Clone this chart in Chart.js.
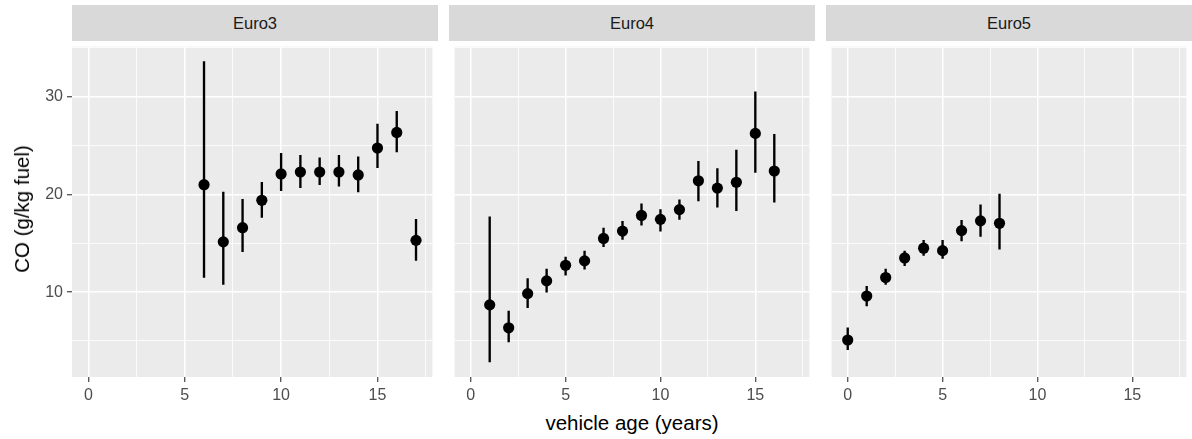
<!DOCTYPE html>
<html><head><meta charset="utf-8">
<script src="https://cdn.jsdelivr.net/npm/chart.js@4.4.1/dist/chart.umd.min.js"></script>
<style>
html,body{margin:0;padding:0;background:#fff}
body{width:1192px;height:439px;position:relative;overflow:hidden;font-family:"Liberation Sans",Arial,sans-serif}
.strip{position:absolute;top:5px;height:36px;width:366px;background:#D9D9D9;color:#1A1A1A;font-size:16.5px;display:flex;align-items:center;justify-content:center}
canvas{position:absolute;top:41px}
.xtitle{position:absolute;left:0;width:1264px;top:410px;text-align:center;font-size:20.5px;color:#000;line-height:26px}
.ytitle{position:absolute;left:22px;top:209px;transform:translate(-50%,-50%) rotate(-90deg);font-size:20.5px;color:#000;white-space:nowrap;line-height:26px}
</style></head>
<body>
<div class="strip" style="left:72px">Euro3</div>
<div class="strip" style="left:449px">Euro4</div>
<div class="strip" style="left:826px">Euro5</div>
<canvas id="c0" width="438" height="366" style="left:0px;width:438px;height:366px"></canvas>
<canvas id="c1" width="366" height="366" style="left:449px;width:366px;height:366px"></canvas>
<canvas id="c2" width="366" height="366" style="left:826px;width:366px;height:366px"></canvas>
<div class="xtitle">vehicle age (years)</div>
<div class="ytitle">CO (g/kg fuel)</div>
<script>
// ---- data ----
const panels = ['Euro3', 'Euro4', 'Euro5'];

const euro3Age   = [6, 7, 8, 9, 10, 11, 12, 13, 14, 15, 16, 17];
const euro3Mean  = [21.0, 15.15, 16.6, 19.4, 22.1, 22.3, 22.3, 22.3, 22.0, 24.75, 26.35, 15.3];
const euro3Lower = [11.5, 10.8, 14.15, 17.65, 20.4, 20.7, 21.0, 20.85, 20.25, 22.75, 24.35, 13.25];
const euro3Upper = [33.6, 20.25, 19.5, 21.25, 24.2, 24.0, 23.75, 24.0, 23.85, 27.2, 28.5, 17.45];

const euro4Age   = [1, 2, 3, 4, 5, 6, 7, 8, 9, 10, 11, 12, 13, 14, 15, 16];
const euro4Mean  = [8.7, 6.35, 9.85, 11.15, 12.75, 13.2, 15.5, 16.25, 17.85, 17.45, 18.45, 21.4, 20.65, 21.25, 26.25, 22.4];
const euro4Lower = [2.85, 4.9, 8.4, 10.0, 11.75, 12.35, 14.65, 15.4, 16.85, 16.25, 17.45, 19.35, 18.7, 18.35, 22.25, 19.2];
const euro4Upper = [17.7, 8.05, 11.4, 12.35, 13.6, 14.2, 16.55, 17.25, 19.05, 18.45, 19.45, 23.4, 22.65, 24.55, 30.5, 26.15];

const euro5Age   = [0, 1, 2, 3, 4, 5, 6, 7, 8];
const euro5Mean  = [5.1, 9.6, 11.5, 13.5, 14.5, 14.25, 16.3, 17.3, 17.05];
const euro5Lower = [4.1, 8.6, 10.8, 12.7, 13.75, 13.45, 15.25, 15.7, 14.4];
const euro5Upper = [6.35, 10.6, 12.35, 14.2, 15.3, 15.3, 17.35, 18.95, 20.05];

const xTickLabels = ['0', '5', '10', '15'];
const yTickLabels = ['10', '20', '30'];

// ---- helpers ----
const series = [
  [euro3Age, euro3Mean, euro3Lower, euro3Upper],
  [euro4Age, euro4Mean, euro4Lower, euro4Upper],
  [euro5Age, euro5Mean, euro5Lower, euro5Upper]
];

const allX = [].concat(euro3Age, euro4Age, euro5Age);
const allY = [].concat(euro3Lower, euro3Upper, euro4Lower, euro4Upper, euro5Lower, euro5Upper);
const xMinD = Math.min(...allX), xMaxD = Math.max(...allX);
const yMinD = Math.min(...allY), yMaxD = Math.max(...allY);
const xPad = (xMaxD - xMinD) * 0.05, yPad = (yMaxD - yMinD) * 0.05;

const bgPlugin = {
  id: 'panelBg',
  beforeDraw(chart) {
    const a = chart.chartArea, c = chart.ctx;
    c.save(); c.fillStyle = '#EBEBEB';
    c.fillRect(a.left, a.top, a.right - a.left, a.bottom - a.top);
    c.restore();
  }
};

const tickFont = { family: '"Liberation Sans", Arial, sans-serif', size: 16 };

function zeroPad(s) { s.paddingTop = 0; s.paddingBottom = 0; s.paddingLeft = 0; s.paddingRight = 0; }

function makeChart(id, idx) {
  const [age, mean, lo, hi] = series[idx];
  const showY = idx === 0;
  new Chart(document.getElementById(id), {
    type: 'scatter',
    data: {
      datasets: [
        {
          type: 'scatter',
          label: panels[idx] + ' mean',
          data: age.map((a, i) => ({ x: a, y: mean[i] })),
          backgroundColor: '#000',
          borderWidth: 0,
          pointRadius: 5.6,
          pointHoverRadius: 5.6
        },
        {
          type: 'bar',
          label: panels[idx] + ' range',
          data: age.map((a, i) => ({ x: a, y: [lo[i], hi[i]] })),
          backgroundColor: '#000',
          borderWidth: 0,
          barThickness: 1.7,
          grouped: false
        }
      ]
    },
    options: {
      responsive: false,
      animation: false,
      events: [],
      layout: { padding: 0 },
      plugins: { legend: { display: false }, tooltip: { enabled: false }, title: { display: false } },
      scales: {
        x: {
          type: 'linear',
          offset: false,
          min: xMinD - xPad,
          max: xMaxD + xPad,
          border: { display: false },
          grid: {
            offset: false,
            color: '#FFFFFF',
            lineWidth: c => (c.tick && c.tick.value % 5 === 0) ? 1.5 : 0.8,
            drawTicks: true,
            tickLength: 5,
            tickWidth: 1.1,
            tickColor: c => (c.tick && c.tick.value % 5 === 0) ? '#333333' : 'rgba(0,0,0,0)'
          },
          ticks: {
            stepSize: 2.5,
            includeBounds: false,
            autoSkip: false,
            maxRotation: 0,
            padding: 4,
            color: '#4D4D4D',
            font: tickFont,
            callback: v => { const i = xTickLabels.indexOf(String(v)); return i >= 0 ? xTickLabels[i] : ''; }
          },
          afterFit: s => { s.height = 30; zeroPad(s); }
        },
        y: {
          type: 'linear',
          min: yMinD - yPad,
          max: yMaxD + yPad,
          beginAtZero: false,
          border: { display: false },
          grid: {
            color: '#FFFFFF',
            lineWidth: c => (c.tick && c.tick.value % 10 === 0) ? 1.5 : 0.8,
            drawTicks: showY,
            tickLength: 5,
            tickWidth: 1.1,
            tickColor: c => (c.tick && c.tick.value % 10 === 0) ? '#333333' : 'rgba(0,0,0,0)'
          },
          ticks: {
            display: showY,
            stepSize: 5,
            includeBounds: false,
            autoSkip: false,
            padding: 4,
            color: '#4D4D4D',
            font: tickFont,
            callback: v => { const i = yTickLabels.indexOf(String(v)); return i >= 0 ? yTickLabels[i] : ''; }
          },
          afterFit: s => { s.width = showY ? 72 : 0; zeroPad(s); }
        }
      }
    },
    plugins: [bgPlugin]
  });
}

makeChart('c0', 0);
makeChart('c1', 1);
makeChart('c2', 2);
</script>
</body></html>
